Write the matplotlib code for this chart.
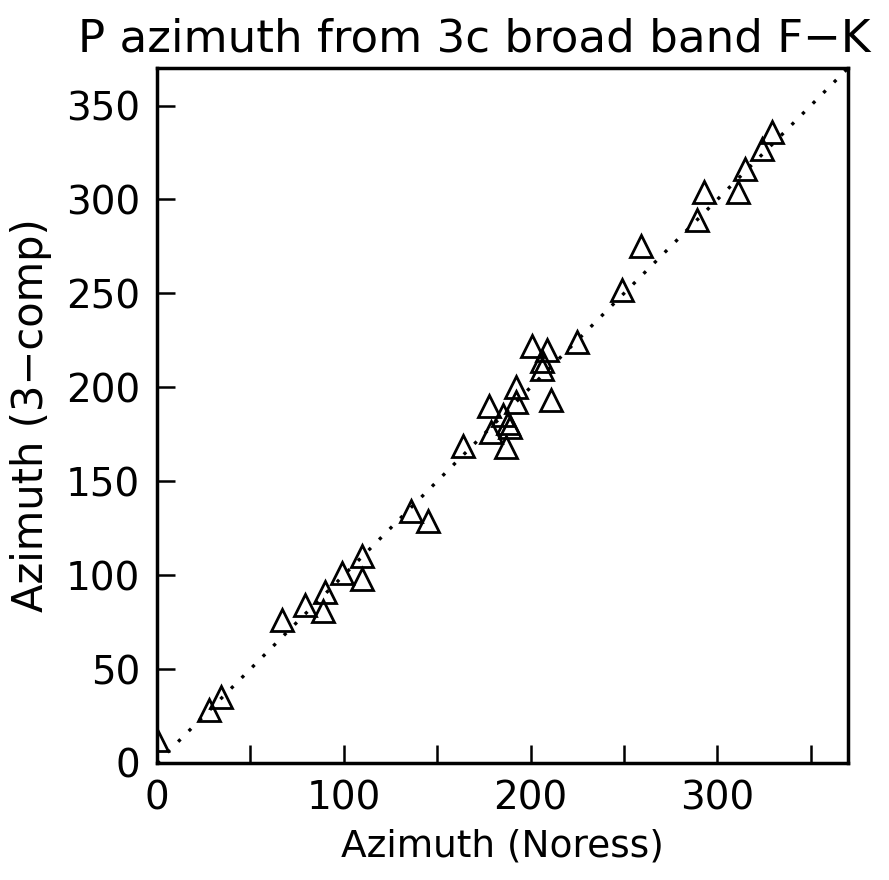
import numpy as np
import matplotlib.pyplot as plt

# azimuth pairs
noress = [0, 28, 34, 67, 79, 89, 90, 99, 110, 110, 136, 145, 164, 178, 179,
          185, 188, 189, 187, 192, 192, 201, 209, 206, 206, 211, 225, 249,
          259, 289, 293, 311, 315, 324, 329]
three_comp = [12, 28, 35, 76, 84, 81, 91, 101, 98, 110, 134, 129, 169, 190, 176,
              185, 181, 179, 168, 200, 192, 222, 220, 214, 210, 193, 224, 252,
              275, 289, 304, 304, 316, 327, 336]

x_ticks = np.arange(0, 351, 50)
x_labels = ['0', '', '100', '', '200', '', '300', '']
y_ticks = np.arange(0, 351, 50)

fig = plt.figure(figsize=(8.89, 8.8), dpi=100)
ax = fig.add_axes([0.1766, 0.133, 0.7774, 0.7897])

ax.plot([0, 370], [0, 370], color='black', lw=2.4, linestyle=(0, (1, 3.5)))
ax.plot(noress, three_comp, linestyle='none', marker='^', markersize=16,
        markerfacecolor='none', markeredgecolor='black', markeredgewidth=2)

ax.set_xlim(0, 370)
ax.set_ylim(0, 370)
ax.set_xticks(x_ticks)
ax.set_xticklabels(x_labels)
ax.set_yticks(y_ticks)
ax.tick_params(direction='in', length=13, width=1.8, labelsize=28, pad=12)
for s in ax.spines.values():
    s.set_linewidth(2.5)

ax.set_xlabel('Azimuth (Noress)', fontsize=27, labelpad=8)
ax.set_ylabel('Azimuth (3\u2212comp)', fontsize=30, labelpad=10)
fig.text(0.533, 0.956, 'P azimuth from 3c broad band F\u2212K', fontsize=32.5,
         ha='center', va='center')

fig.savefig('out.png', dpi=100)
